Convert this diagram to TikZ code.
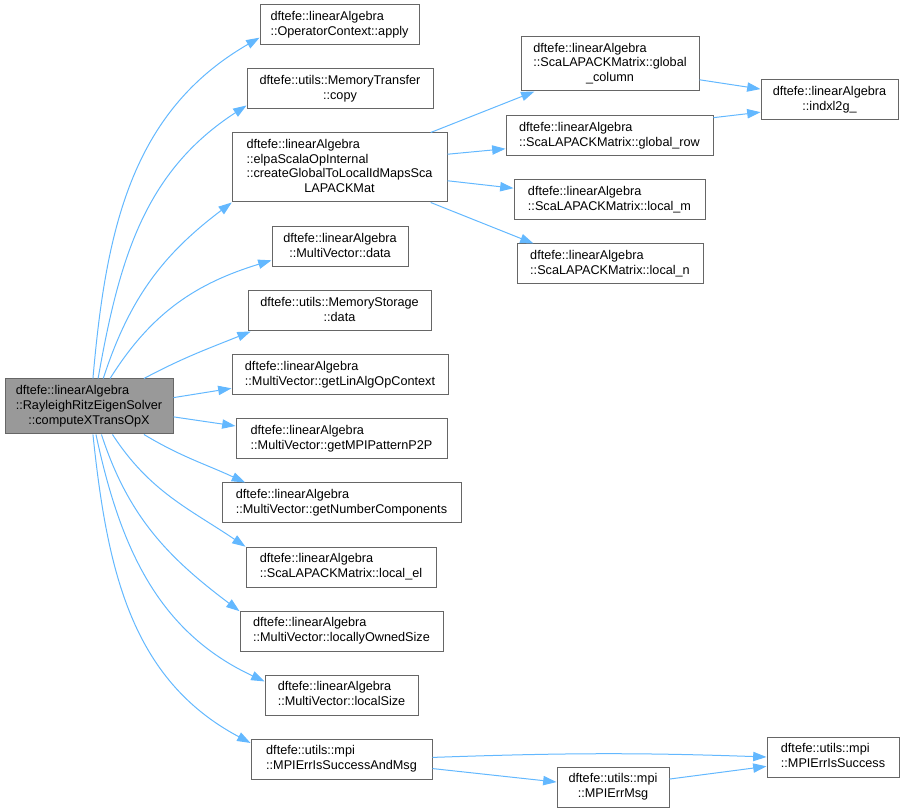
\documentclass[tikz,border=0pt]{standalone}
\usepackage{fontspec}
\setmainfont{Liberation Sans}
\usetikzlibrary{arrows.meta}
\definecolor{edgeblue}{HTML}{63B8FF}
\definecolor{boxline}{HTML}{666666}
\definecolor{mainfill}{HTML}{999999}
\newcommand{\fname}[2]{\begin{tabular}{@{}l@{}}#1\\\multicolumn{1}{@{}c@{}}{#2}\end{tabular}}

\begin{document}
\begin{tikzpicture}[x=0.75pt, y=-0.75pt,
        fn/.style={shape=rectangle, draw=boxline, line width=0.75pt, fill=white, inner sep=0pt, font=\fontsize{9.5}{11}\selectfont},
        wd/.style={minimum width=#1*0.75pt},
        ht/.style={minimum height=#1*0.75pt},
        call/.style={color=edgeblue, line width=0.75pt, -{Triangle[length=10pt,width=7pt]}}]
        \useasboundingbox (0,0) rectangle (903,812);

        \node[fn, wd=168, ht=55, fill=mainfill] (main) at (89,406.5) {\fname{dftefe::linearAlgebra\\::RayleighRitzEigenSolver}{::computeXTransOpX}};

        \node[fn, wd=159, ht=40] (apply) at (339.5,25) {\fname{dftefe::linearAlgebra}{::OperatorContext::apply}};
        \node[fn, wd=186, ht=40] (copy) at (340,89) {\fname{dftefe::utils::MemoryTransfer}{::copy}};
        \node[fn, wd=215, ht=69] (elpa) at (339.5,167.5) {\fname{dftefe::linearAlgebra\\::elpaScalaOpInternal\\::createGlobalToLocalIdMapsSca}{LAPACKMat}};
        \node[fn, wd=136, ht=40] (mdata) at (340,247) {\fname{dftefe::linearAlgebra}{::MultiVector::data}};
        \node[fn, wd=183, ht=40] (msdata) at (339.5,311) {\fname{dftefe::utils::MemoryStorage}{::data}};
        \node[fn, wd=216, ht=40] (linalg) at (340,375) {\fname{dftefe::linearAlgebra}{::MultiVector::getLinAlgOpContext}};
        \node[fn, wd=211, ht=40] (p2p) at (341.5,439) {\fname{dftefe::linearAlgebra}{::MultiVector::getMPIPatternP2P}};
        \node[fn, wd=239, ht=40] (ncomp) at (341.5,503) {\fname{dftefe::linearAlgebra}{::MultiVector::getNumberComponents}};
        \node[fn, wd=190, ht=40] (localel) at (341,567) {\fname{dftefe::linearAlgebra}{::ScaLAPACKMatrix::local\_el}};
        \node[fn, wd=203, ht=40] (owned) at (341.5,631) {\fname{dftefe::linearAlgebra}{::MultiVector::locallyOwnedSize}};
        \node[fn, wd=153, ht=40] (lsize) at (341.5,695) {\fname{dftefe::linearAlgebra}{::MultiVector::localSize}};
        \node[fn, wd=181, ht=40] (succmsg) at (341.5,759) {\fname{dftefe::utils::mpi}{::MPIErrIsSuccessAndMsg}};

        \node[fn, wd=178, ht=54] (gcol) at (610,64) {\fname{dftefe::linearAlgebra\\::ScaLAPACKMatrix::global}{\_column}};
        \node[fn, wd=207, ht=40] (grow) at (609.5,136) {\fname{dftefe::linearAlgebra}{::ScaLAPACKMatrix::global\_row}};
        \node[fn, wd=191, ht=40] (lm) at (609.5,200) {\fname{dftefe::linearAlgebra}{::ScaLAPACKMatrix::local\_m}};
        \node[fn, wd=186, ht=40] (ln) at (610,264) {\fname{dftefe::linearAlgebra}{::ScaLAPACKMatrix::local\_n}};
        \node[fn, wd=137, ht=40] (indx) at (829.5,100) {\fname{dftefe::linearAlgebra}{::indxl2g\_}};
        \node[fn, wd=112, ht=40] (errmsg) at (613,787) {\fname{dftefe::utils::mpi}{::MPIErrMsg}};
        \node[fn, wd=132, ht=40] (succ) at (833,757) {\fname{dftefe::utils::mpi}{::MPIErrIsSuccess}};

        \path [call] (main.82) edge [out=85, in=210] (apply.189);
        \path [call] (main.72) edge [out=80, in=213] (copy.190);
        \path [call] (main.63) edge [out=72, in=217] (elpa.198);
        \path [call] (main.53) edge [out=58, in=197] (mdata.191);
        \path [call] (main.27) edge [out=28, in=202] (msdata.193);
        \path [call] (main.6) edge (linalg.187);
        \path [call] (main.-7) edge (p2p.173);
        \path [call] (main.-27) edge [out=-31, in=155] (ncomp.168);
        \path [call] (main.-50) edge [out=-57, in=146] (localel.168);
        \path [call] (main.-66) edge [out=-72, in=143] (owned.169);
        \path [call] (main.-76) edge [out=-78, in=155] (lsize.170);
        \path [call] (main.-82) edge [out=-84, in=152] (succmsg.170);

        \path [call] (elpa.21) edge (gcol.200);
        \path [call] (elpa.7) edge (grow.187);
        \path [call] (elpa.-7) edge (lm.173);
        \path [call] (elpa.-21) edge (ln.165);
        \path [call] (gcol.-10) edge (indx.171);
        \path [call] (grow.10) edge (indx.190);
        \path [call] (succmsg.1) edge [out=2, in=178] (succ.180);
        \path [call] (succmsg.-6) edge (errmsg.175);
        \path [call] (errmsg.8) edge (succ.188);
    \end{tikzpicture}
\end{document}
